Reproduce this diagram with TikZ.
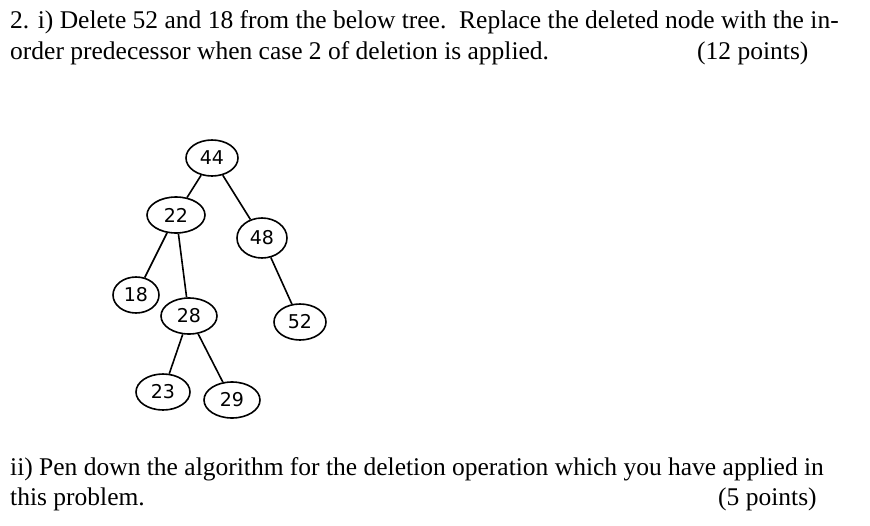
\documentclass[tikz,border=0pt]{standalone}
\usepackage{fontspec}
\setmainfont{Liberation Serif}
\newfontfamily\hand{DejaVu Sans}
\usetikzlibrary{shapes.geometric}
\begin{document}
\begin{tikzpicture}[x=1pt,y=-1pt,
  tn/.style={draw,ellipse,line width=1.6pt,minimum width=52pt,minimum height=36pt,inner sep=0pt,font=\hand\fontsize{19}{19}\selectfont},
  ed/.style={line width=1.6pt},
  txt/.style={anchor=base west,inner sep=0pt,font=\fontsize{25.5}{25.5}\selectfont}]
\useasboundingbox (0,0) rectangle (870,525);
\node[txt] (l1) at (10,28) {2. i) Delete 52 and 18 from the below tree.\ \ Replace the deleted node with the in-};
\node[txt] (l2) at (10,59) {order predecessor when case 2 of deletion is applied.};
\node[txt] (p1) at (697,59) {(12 points)};
\node[txt] (l3) at (10,475) {ii) Pen down the algorithm for the deletion operation which you have applied in};
\node[txt] (l4) at (10,505) {this problem.};
\node[txt] (p2) at (718,505) {(5 points)};
\node[tn] (n44) at (212,158) {44};
\node[tn,minimum width=58pt] (n22) at (176,215) {22};
\node[tn,minimum width=50pt,minimum height=40pt] (n48) at (262,238) {48};
\node[tn,minimum width=46pt] (n18) at (136,295) {18};
\node[tn,minimum width=56pt] (n28) at (189,316) {28};
\node[tn,minimum width=52pt] (n52) at (300,322) {52};
\node[tn,minimum width=54pt] (n23) at (163,392) {23};
\node[tn,minimum width=56pt] (n29) at (232,400) {29};
\draw[ed] (n44) -- (n22);
\draw[ed] (n44) -- (n48);
\draw[ed] (n22) -- (n18);
\draw[ed] (n22) -- (n28);
\draw[ed] (n48) -- (n52);
\draw[ed] (n28) -- (n23);
\draw[ed] (n28) -- (n29);
\end{tikzpicture}
\end{document}
